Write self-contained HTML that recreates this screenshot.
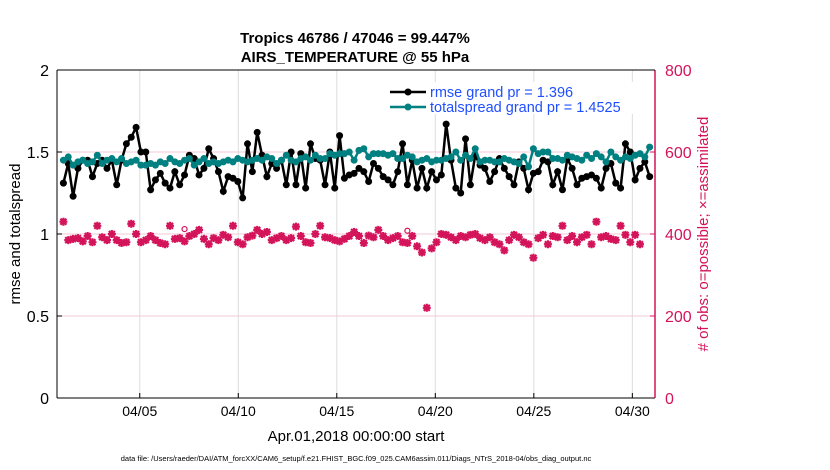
<!DOCTYPE html>
<html><head><meta charset="utf-8"><style>
body{margin:0;background:#fff;font-family:"Liberation Sans",sans-serif}
svg{display:block}
</style></head><body>
<svg id="c" width="830" height="470">
<text x="355" y="43" text-anchor="middle" font-size="15" font-weight="bold">Tropics 46786 / 47046 = 99.447%</text>
<text x="355" y="62" text-anchor="middle" font-size="15" font-weight="bold">AIRS_TEMPERATURE @ 55 hPa</text>
<g id="grid"></g><g id="marks"></g><g id="axes"></g>
<text transform="translate(20,234) rotate(-90)" text-anchor="middle" font-size="15">rmse and totalspread</text>
<text transform="translate(708,234) rotate(-90)" text-anchor="middle" font-size="15" fill="#d4145a"># of obs: o=possible; ×=assimilated</text>
<text x="356" y="441" text-anchor="middle" font-size="15">Apr.01,2018 00:00:00 start</text>
<text x="356" y="461" text-anchor="middle" font-size="7.5">data file: /Users/raeder/DAI/ATM_forcXX/CAM6_setup/f.e21.FHIST_BGC.f09_025.CAM6assim.011/Diags_NTrS_2018-04/obs_diag_output.nc</text>
<g>
<rect x="384" y="82" width="262" height="32" fill="#fff"/>
<line x1="390" y1="92" x2="426" y2="92" stroke="#000" stroke-width="2.5"/><circle cx="408" cy="92" r="3.5" fill="#000"/>
<text x="430" y="97" font-size="14.5" fill="#1f4fff">rmse grand pr = 1.396</text>
<line x1="390" y1="107" x2="426" y2="107" stroke="#008080" stroke-width="2.5"/><circle cx="408" cy="107" r="3.5" fill="#008080"/>
<text x="430" y="112" font-size="14.5" fill="#1f4fff">totalspread grand pr = 1.4525</text>
</g>
</svg>
<script>
const rmse=[1.31,1.43,1.23,1.40,1.45,1.45,1.35,1.43,1.45,1.40,1.45,1.30,1.45,1.55,1.59,1.65,1.50,1.50,1.27,1.33,1.37,1.31,1.28,1.38,1.30,1.36,1.48,1.46,1.36,1.40,1.52,1.46,1.38,1.26,1.35,1.34,1.32,1.22,1.55,1.38,1.62,1.48,1.35,1.43,1.40,1.45,1.30,1.50,1.30,1.49,1.28,1.55,1.46,1.45,1.30,1.50,1.28,1.60,1.34,1.36,1.37,1.40,1.38,1.32,1.43,1.40,1.35,1.33,1.30,1.38,1.55,1.30,1.45,1.28,1.40,1.28,1.38,1.33,1.36,1.67,1.45,1.28,1.25,1.58,1.30,1.48,1.42,1.40,1.32,1.38,1.46,1.40,1.35,1.30,1.44,1.40,1.27,1.37,1.38,1.45,1.44,1.30,1.38,1.27,1.46,1.40,1.30,1.34,1.35,1.36,1.34,1.28,1.40,1.43,1.31,1.28,1.55,1.50,1.33,1.40,1.44,1.35];
const spread=[1.45,1.47,1.42,1.44,1.45,1.43,1.44,1.48,1.43,1.45,1.46,1.44,1.46,1.43,1.44,1.45,1.42,1.42,1.43,1.42,1.44,1.43,1.46,1.44,1.43,1.45,1.46,1.42,1.44,1.46,1.43,1.44,1.43,1.44,1.45,1.44,1.46,1.45,1.44,1.45,1.46,1.45,1.47,1.46,1.43,1.45,1.48,1.45,1.44,1.46,1.47,1.45,1.48,1.46,1.46,1.49,1.48,1.49,1.49,1.50,1.45,1.51,1.52,1.47,1.49,1.49,1.49,1.48,1.49,1.46,1.46,1.48,1.47,1.44,1.45,1.46,1.44,1.45,1.45,1.46,1.47,1.50,1.45,1.48,1.46,1.52,1.44,1.45,1.45,1.44,1.44,1.46,1.45,1.44,1.43,1.47,1.41,1.52,1.49,1.50,1.50,1.46,1.46,1.45,1.48,1.47,1.46,1.45,1.48,1.46,1.49,1.47,1.44,1.50,1.47,1.45,1.47,1.46,1.48,1.49,1.47,1.53];
const nobs=[430,385,388,390,382,395,380,420,392,385,400,385,378,380,425,400,380,385,395,385,
378,375,420,388,390,382,395,400,410,388,375,390,385,398,392,420,380,375,392,396,
410,400,405,385,390,395,385,390,418,395,380,378,400,420,392,390,385,382,388,395,
405,395,378,396,392,410,395,385,390,395,380,378,395,370,355,220,
365,380,400,398,392,385,395,392,398,400,390,385,392,380,375,360,385,398,392,380,
375,342,390,398,375,395,392,420,385,395,380,392,398,375,430,392,395,388,385,420,398,380,398,375];
const possibleIdx=[25,71];
const xTicks=["04/05","04/10","04/15","04/20","04/25","04/30"];
const xTickDays=[5,10,15,20,25,30];
const yTicks=[0,0.5,1,1.5,2];
const y2Ticks=[0,200,400,600,800];
const NS="http://www.w3.org/2000/svg";
const L=57,R=655,T=70,B=398;
const X=d=>L+(d-0.8)/(31.15-0.8)*(R-L);
const Y=v=>B-v/2*(B-T);
const Y2=v=>B-v/800*(B-T);
const dayOf=i=>1.125+i*(30/(rmse.length));
function el(t,a,p){const e=document.createElementNS(NS,t);for(const k in a)e.setAttribute(k,a[k]);(p||document.getElementById('marks')).appendChild(e);return e;}
const g=document.getElementById('grid'),ax=document.getElementById('axes');
xTickDays.forEach((d,i)=>{const x=X(d);
 const l=el('line',{x1:x,y1:T,x2:x,y2:B,stroke:'#ddd'},g);
 
 el('line',{x1:x,y1:B,x2:x,y2:B-5,stroke:'#000'},ax);
 const t=el('text',{x:x,y:B+18,'text-anchor':'middle','font-size':14},ax);t.textContent=xTicks[i];
 });
[0.5,1,1.5].forEach(v=>{const l=el('line',{x1:L,y1:Y(v),x2:R,y2:Y(v),stroke:'#f6c9d8'},g);
 });
yTicks.forEach(v=>{el('line',{x1:L,y1:Y(v),x2:L+5,y2:Y(v),stroke:'#000'},ax);
 const t=el('text',{x:L-8,y:Y(v)+6,'text-anchor':'end','font-size':16},ax);t.textContent=String(v);
 });
y2Ticks.forEach(v=>{el('line',{x1:R,y1:Y2(v),x2:R-5,y2:Y2(v),stroke:'#d4145a'},ax);
 const t=el('text',{x:R+10,y:Y2(v)+6,'font-size':16,fill:'#d4145a'},ax);t.textContent=String(v);
 });
el('line',{x1:L,y1:T,x2:L,y2:B,stroke:'#000'},ax);
el('line',{x1:L,y1:B,x2:R,y2:B,stroke:'#000'},ax);
el('line',{x1:R,y1:T,x2:R,y2:B,stroke:'#d4145a','stroke-width':1.5},ax);
el('line',{x1:L,y1:T,x2:R,y2:T,stroke:'#000'},ax);
const n=rmse.length;
for(let i=0;i<n&&i<nobs.length;i++){const x=X(dayOf(i)),y=Y2(nobs[i]);
 const m=el('path',{d:`M${x-4},${y}H${x+4}M${x},${y-4}V${y+4}M${x-3},${y-3}L${x+3},${y+3}M${x-3},${y+3}L${x+3},${y-3}`,stroke:'#d4145a','stroke-width':2.2});
 }
possibleIdx.forEach(i=>{const c=el('circle',{cx:X(dayOf(i)),cy:Y2(nobs[i]+30),r:2.5,fill:'none',stroke:'#d4145a','stroke-width':1.2});
 });
function series(arr,col,name){
 const p=el('polyline',{points:arr.map((v,i)=>X(dayOf(i))+','+Y(v)).join(' '),fill:'none',stroke:col,'stroke-width':2.5});
 
 arr.forEach((v,i)=>{const c=el('circle',{cx:X(dayOf(i)),cy:Y(v),r:3.5,fill:col});
  });}
series(rmse,'#000','rmse');
series(spread,'#008080','totalspread');
</script>
</body></html>
